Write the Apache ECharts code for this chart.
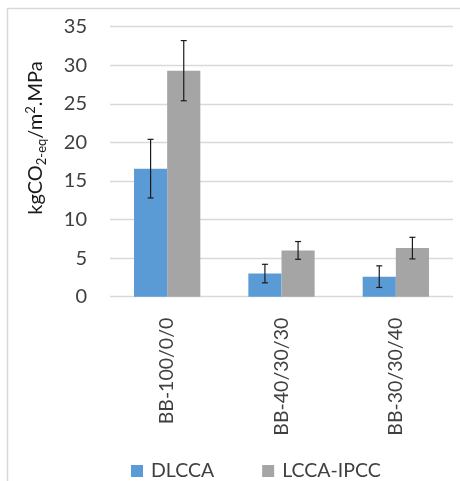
<!DOCTYPE html>
<html>
<head>
<meta charset="utf-8">
<script src="https://cdn.jsdelivr.net/npm/echarts@6/dist/echarts.min.js"></script>
<style>html,body{margin:0;padding:0;background:#fff;}#c{width:460px;height:481px;}</style>
</head>
<body>
<div id="c"></div>
<script>
var categories = ['BB-100/0/0', 'BB-40/30/30', 'BB-30/30/40'];
var dlcca = [16.6, 3.0, 2.6];
var lccaIpcc = [29.3, 6.0, 6.3];
var dlccaErr = [3.8, 1.2, 1.4];
var lccaIpccErr = [3.9, 1.15, 1.4];
var yTicks = [0, 5, 10, 15, 20, 25, 30, 35];

var FONT = 'Lato';
var gapPct = 0.42;
function errData(vals, errs) {
  return vals.map(function (v, i) { return [i, v - errs[i], v + errs[i]]; });
}
function errSeries(name, vals, errs, side) {
  return {
    type: 'custom',
    name: name + ' err',
    data: errData(vals, errs),
    z: 10,
    renderItem: function (params, api) {
      var idx = api.value(0);
      var lo = api.coord([idx, api.value(1)]);
      var hi = api.coord([idx, api.value(2)]);
      var bw = api.size([1, 0])[0] * (1 - gapPct) / 2;
      var x = lo[0] + side * bw / 2;
      var cap = 3;
      var st = { stroke: '#1a1a1a', lineWidth: 1.2 };
      return {
        type: 'group',
        children: [
          { type: 'line', shape: { x1: x, y1: lo[1], x2: x, y2: hi[1] }, style: st },
          { type: 'line', shape: { x1: x - cap, y1: lo[1], x2: x + cap, y2: lo[1] }, style: st },
          { type: 'line', shape: { x1: x - cap, y1: hi[1], x2: x + cap, y2: hi[1] }, style: st }
        ]
      };
    },
    tooltip: { show: false }
  };
}

var chart = echarts.init(document.getElementById('c'), null, { renderer: 'canvas' });
chart.setOption({
  animation: false,
  textStyle: { fontFamily: FONT },
  grid: { left: 110, right: 7, top: 26.7, bottom: 184.3, containLabel: false },
  legend: {
    data: ['DLCCA', 'LCCA-IPCC'],
    left: 126, top: 456,
    icon: 'rect', itemWidth: 12, itemHeight: 12, itemGap: 48,
    textStyle: { fontFamily: FONT, fontSize: 19.5, color: '#404040', padding: [0, 0, 0, 3] }
  },
  xAxis: {
    type: 'category',
    data: categories,
    axisLine: { show: false },
    axisTick: { show: false },
    axisLabel: { rotate: 90, margin: 21, fontSize: 19.5, color: '#404040', fontFamily: FONT, interval: 0 }
  },
  yAxis: {
    type: 'value',
    min: 0, max: 35, interval: 5,
    axisLine: { show: false },
    axisTick: { show: false },
    splitLine: { lineStyle: { color: '#d9d9d9', width: 1.3 } },
    axisLabel: {
      margin: 23, fontSize: 20, color: '#404040', fontFamily: FONT,
      customValues: yTicks
    }
  },
  graphic: [
    {
      type: 'rect', silent: true,
      shape: { x: 7.5, y: 8.5, width: 480, height: 490 },
      style: { fill: 'none', stroke: '#d9d9d9', lineWidth: 1.5 }
    },
    {
      type: 'text', silent: true,
      x: 36, y: 138, rotation: Math.PI / 2,
      style: {
        text: '{a|kgCO}{s|2-eq}{a|/m}{p|2}{a|.MPa}',
        align: 'center', verticalAlign: 'middle',
        fill: '#1a1a1a',
        rich: {
          a: { fontSize: 20, fontFamily: FONT, fill: '#1a1a1a', lineHeight: 24 },
          s: { fontSize: 13, fontFamily: FONT, fill: '#1a1a1a', verticalAlign: 'bottom', lineHeight: 18 },
          p: { fontSize: 13, fontFamily: FONT, fill: '#1a1a1a', verticalAlign: 'top', lineHeight: 22 }
        }
      }
    }
  ],
  series: [
    {
      name: 'DLCCA', type: 'bar', data: dlcca,
      barGap: '0%', barCategoryGap: (gapPct * 100) + '%',
      itemStyle: { color: '#5b9bd5' }
    },
    {
      name: 'LCCA-IPCC', type: 'bar', data: lccaIpcc,
      barGap: '0%', barCategoryGap: (gapPct * 100) + '%',
      itemStyle: { color: '#a5a5a5' }
    },
    errSeries('DLCCA', dlcca, dlccaErr, -1),
    errSeries('LCCA-IPCC', lccaIpcc, lccaIpccErr, 1)
  ]
});
</script>
</body>
</html>
